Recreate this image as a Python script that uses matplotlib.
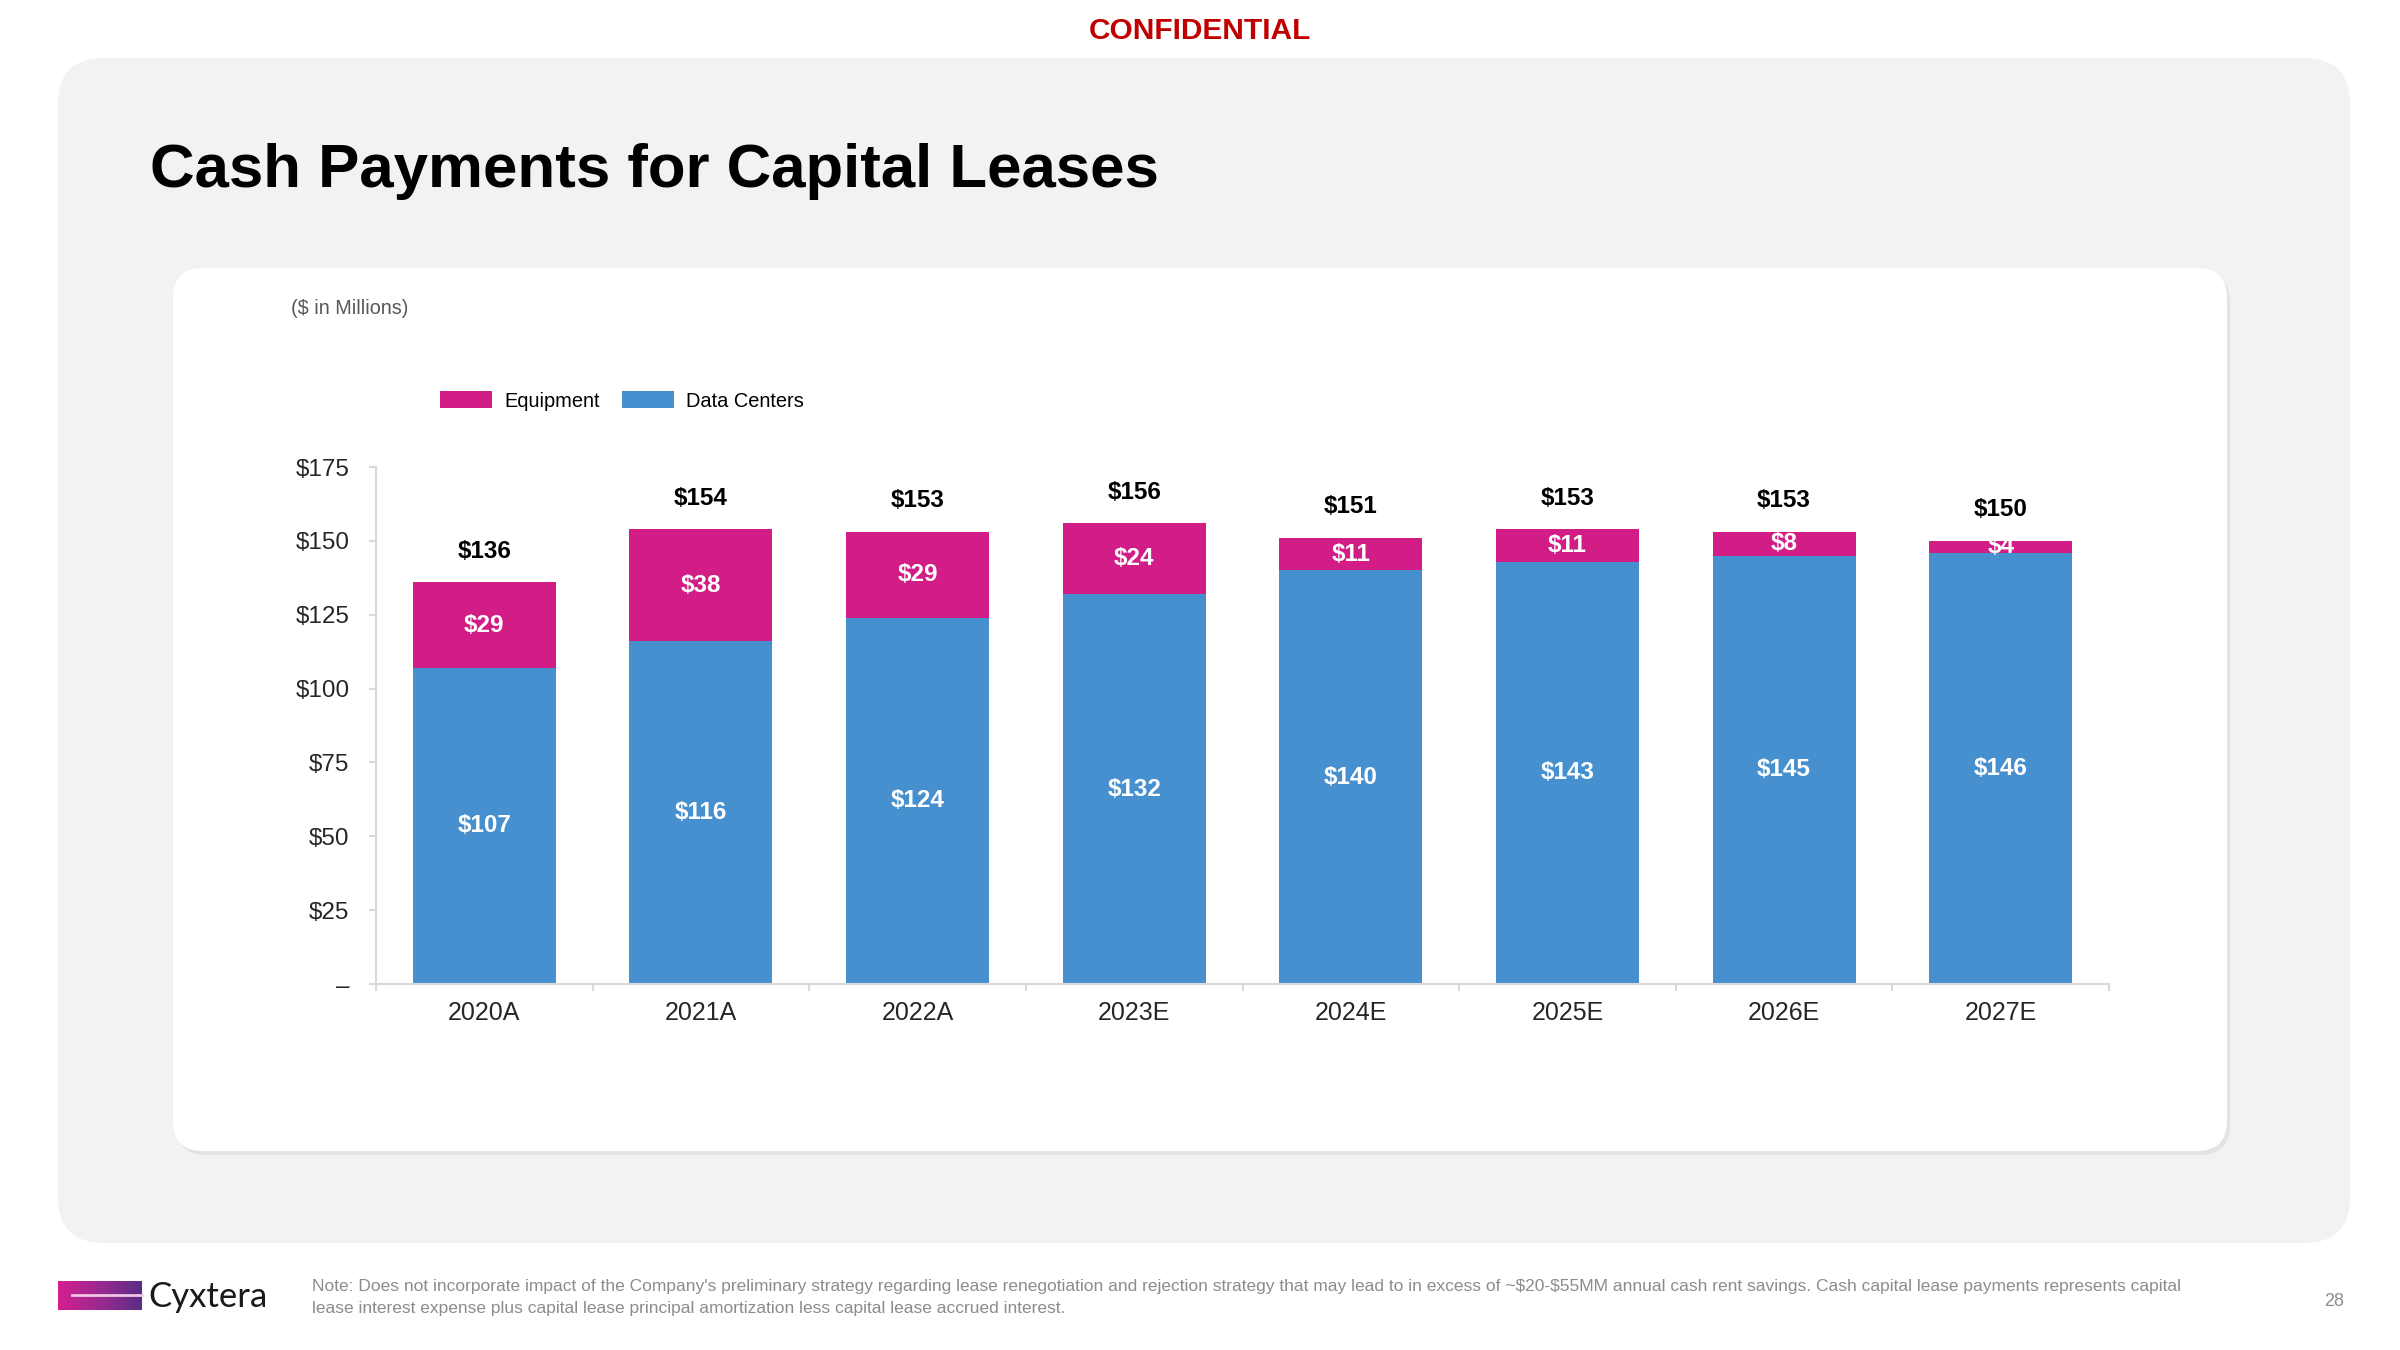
import matplotlib.pyplot as plt
import numpy as np
from matplotlib.patches import FancyBboxPatch, Patch
from matplotlib.colors import LinearSegmentedColormap

plt.rcParams['font.family'] = ['Liberation Sans', 'DejaVu Sans']
plt.rcParams['text.parse_math'] = False

# Data ($ in millions)
years = ["2020A", "2021A", "2022A", "2023E", "2024E", "2025E", "2026E", "2027E"]
data_centers = [107, 116, 124, 132, 140, 143, 145, 146]
equipment = [29, 38, 29, 24, 11, 11, 8, 4]
totals = [136, 154, 153, 156, 151, 153, 153, 150]
y_ticks = [0, 25, 50, 75, 100, 125, 150, 175]
y_ticklabels = ["–", "$25", "$50", "$75", "$100", "$125", "$150", "$175"]

BLUE = "#4790CF"
PINK = "#D21C86"
AXIS_GRAY = "#D9D9D9"

fig = plt.figure(figsize=(24, 13.5), dpi=100)

# Background layer in pixel coordinates
bg = fig.add_axes([0, 0, 1, 1], zorder=0)
bg.axis("off")

bg.add_patch(FancyBboxPatch((58, 58), 2292, 1185, boxstyle="round,pad=0,rounding_size=46",
                            facecolor="#F2F2F2", edgecolor="none"))
bg.add_patch(FancyBboxPatch((176, 272), 2054, 883, boxstyle="round,pad=0,rounding_size=30",
                            facecolor="#E3E3E3", edgecolor="none"))
bg.add_patch(FancyBboxPatch((173, 268), 2054, 883, boxstyle="round,pad=0,rounding_size=30",
                            facecolor="white", edgecolor="none"))

# Cyxtera logo mark
grad = np.repeat(np.linspace(0, 1, 100)[None, :], 10, axis=0)
logo_cmap = LinearSegmentedColormap.from_list("logo", ["#D41E8E", "#9A2A90", "#5B2D86"])
bg.imshow(grad, extent=(58, 142, 1310, 1281), cmap=logo_cmap, aspect="auto")
bg.plot([72, 142], [1295, 1295], color="#F0C4E4", lw=2)
bg.set_xlim(0, 2400)
bg.set_ylim(1350, 0)

fig.text(0.5, 1 - 31 / 1350, "CONFIDENTIAL", ha="center", va="center",
         fontsize=21.5, fontweight="bold", color="#C00000")
fig.text(150 / 2400, 1 - 171 / 1350, "Cash Payments for Capital Leases", ha="left", va="center",
         fontsize=44.5, fontweight="bold", color="black")
fig.text(291 / 2400, 1 - 308 / 1350, "($ in Millions)", ha="left", va="center",
         fontsize=14.2, color="#595959")
fig.text(148 / 2400, 1 - 1297 / 1350, "Cyxtera", ha="left", va="center",
         fontsize=25, family=["Lato", "DejaVu Sans"], color="#1A1A1A")
fig.text(312 / 2400, 1 - 1287 / 1350,
         "Note: Does not incorporate impact of the Company's preliminary strategy regarding lease renegotiation "
         "and rejection strategy that may lead to in excess of ~$20-$55MM annual cash rent savings. Cash capital "
         "lease payments represents capital", ha="left", va="center", fontsize=12.5, color="#8C8C8C")
fig.text(312 / 2400, 1 - 1308 / 1350,
         "lease interest expense plus capital lease principal amortization less capital lease accrued interest.",
         ha="left", va="center", fontsize=12.5, color="#8C8C8C")
fig.text(2334 / 2400, 1 - 1302 / 1350, "28", ha="center", va="center", fontsize=13, color="#8C8C8C")

# Chart
ax = fig.add_axes([376 / 2400, 1 - 984 / 1350, (2109 - 376) / 2400, (984 - 467) / 1350], zorder=1)
ax.set_facecolor("none")
x = np.arange(len(years))
ax.bar(x, data_centers, width=0.66, color=BLUE)
ax.bar(x, equipment, bottom=data_centers, width=0.66, color=PINK)

for xi, dc, eq, tot in zip(x, data_centers, equipment, totals):
    ax.text(xi, dc / 2, f"${dc}", ha="center", va="center", fontsize=17.5,
            fontweight="bold", color="white")
    ax.text(xi, dc + eq / 2, f"${eq}", ha="center", va="center", fontsize=17.5,
            fontweight="bold", color="white")
    ax.text(xi, dc + eq + 10.5, f"${tot}", ha="center", va="center", fontsize=17.5,
            fontweight="bold", color="black")

ax.set_xlim(-0.5, len(years) - 0.5)
ax.set_ylim(0, 175)
ax.set_yticks(y_ticks)
ax.set_yticklabels(y_ticklabels, fontsize=17.5, color="#262626")
ax.set_xticks(x)
ax.set_xticklabels(years, fontsize=18, color="#262626")
ax.set_xticks(np.arange(len(years) + 1) - 0.5, minor=True)
ax.tick_params(axis="x", which="major", length=0, pad=12)
ax.tick_params(axis="x", which="minor", length=5, color=AXIS_GRAY, width=1.5)
ax.tick_params(axis="y", length=5, color=AXIS_GRAY, width=1.5, pad=14)
for side in ["top", "right"]:
    ax.spines[side].set_visible(False)
for side in ["left", "bottom"]:
    ax.spines[side].set_color(AXIS_GRAY)
    ax.spines[side].set_linewidth(1.5)

handles = [Patch(facecolor=PINK, label="Equipment"), Patch(facecolor=BLUE, label="Data Centers")]
ax.legend(handles=handles, loc="center left", bbox_to_anchor=(440 / 2400, 1 - 401 / 1350),
          bbox_transform=fig.transFigure, ncol=2, frameon=False, fontsize=14.4,
          handlelength=2.6, handleheight=0.9, columnspacing=1.1, handletextpad=0.6,
          borderaxespad=0, borderpad=0)

fig.savefig("out.png", dpi=100)
